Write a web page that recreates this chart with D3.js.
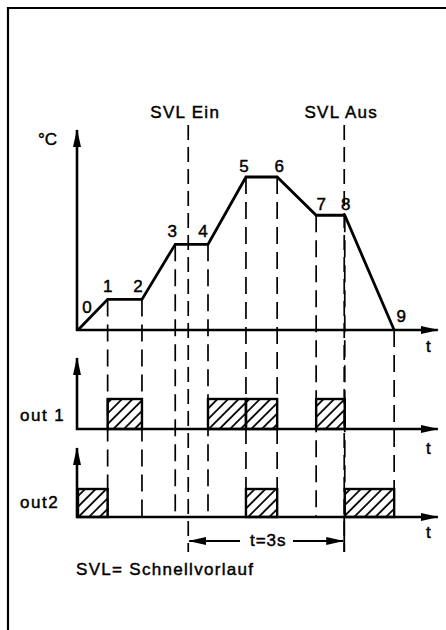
<!DOCTYPE html>
<html>
<head>
<meta charset="utf-8">
<script src="https://cdn.jsdelivr.net/npm/d3@7/dist/d3.min.js"></script>
<style>
  html, body { margin: 0; padding: 0; background: #fff; }
  svg { display: block; }
  text { font-family: "Liberation Sans", Arial, Helvetica, sans-serif; fill: #000; stroke: #000; stroke-width: 0.45px; }
</style>
</head>
<body>
<script>
// Switching points of the temperature profile (time in s, temperature in %)
const pointLabels = ["0", "1", "2", "3", "4", "5", "6", "7", "8", "9"];
const pointTimes  = [0, 0.57, 1.23, 1.87, 2.5, 3.23, 3.83, 4.58, 5.13, 6.08];
const pointTemps  = [0, 20, 20, 56, 56, 100, 100, 75, 75, 0];

// Output pulses as [start point, end point] index pairs
const out1Pulses = [[1, 2], [4, 5], [5, 6], [7, 8]];
const out2Pulses = [[0, 1], [5, 6], [8, 9]];

// Fast-forward markers (time in s)
const svlTimes  = [2.12, 5.12];
const svlLabels = ["SVL Ein", "SVL Aus"];
const bracketLabel = "t=3s";
const footnote = "SVL= Schnellvorlauf";

const W = 446, H = 630;
const svg = d3.select("body").append("svg").attr("width", W).attr("height", H);

// Hatch pattern for pulse boxes
const defs = svg.append("defs");
const pat = defs.append("pattern")
  .attr("id", "hatch").attr("patternUnits", "userSpaceOnUse")
  .attr("width", 7.5).attr("height", 10)
  .attr("patternTransform", "rotate(45)");
pat.append("line").attr("x1", 1).attr("y1", 0).attr("x2", 1).attr("y2", 10)
  .attr("stroke", "#000").attr("stroke-width", 1.8);

const arrow = defs.append("marker")
  .attr("id", "arr").attr("viewBox", "0 0 18 8")
  .attr("refX", 17).attr("refY", 4)
  .attr("markerWidth", 18).attr("markerHeight", 8)
  .attr("markerUnits", "userSpaceOnUse")
  .attr("orient", "auto");
arrow.append("path").attr("d", "M0,0 L18,4 L0,8 Z").attr("fill", "#000");

// Frame (top and left edges)
svg.append("path").attr("d", `M8,630 L8,8 L446,8`)
  .attr("fill", "none").attr("stroke", "#000").attr("stroke-width", 2.2);

// Scales
const x = d3.scaleLinear().domain([0, 7]).range([78, 442]);
const yT = d3.scaleLinear().domain([0, 100]).range([330, 177]);
const y1 = d3.scaleLinear().domain([0, 1]).range([429, 399]);
const y2 = d3.scaleLinear().domain([0, 1]).range([517, 489]);

const axisX0 = 77;
const tEnd = 6.92;

// Dashed guide lines from each point down to the out2 baseline
svg.append("g").selectAll("line")
  .data(pointTimes.slice(1))
  .join("line")
  .attr("x1", d => x(d)).attr("x2", d => x(d))
  .attr("y1", (d, i) => yT(pointTemps[i + 1]))
  .attr("y2", y2(0))
  .attr("stroke", "#000").attr("stroke-width", 1.7)
  .attr("stroke-dasharray", "17,8");

// SVL marker lines
svg.append("g").selectAll("line")
  .data(svlTimes)
  .join("line")
  .attr("x1", d => x(d)).attr("x2", d => x(d))
  .attr("y1", 125).attr("y2", 552)
  .attr("stroke", "#000").attr("stroke-width", 1.7)
  .attr("stroke-dasharray", "15,7");

svg.append("g").selectAll("text")
  .data(svlLabels)
  .join("text")
  .attr("x", (d, i) => x(svlTimes[i]) - 3)
  .attr("y", 118)
  .attr("text-anchor", "middle")
  .attr("font-size", 17).attr("letter-spacing", 1.3)
  .text(d => d);

// Axes
function axis(yTop, yBase) {
  svg.append("line").attr("x1", axisX0).attr("x2", axisX0)
    .attr("y1", yBase + 1).attr("y2", yTop)
    .attr("stroke", "#000").attr("stroke-width", 2.6).attr("marker-end", "url(#arr)");
  svg.append("line").attr("x1", axisX0 - 1).attr("x2", x(tEnd))
    .attr("y1", yBase).attr("y2", yBase)
    .attr("stroke", "#000").attr("stroke-width", 2.6).attr("marker-end", "url(#arr)");
}
axis(130, yT(0));
axis(358, y1(0));
axis(448, y2(0));

// Temperature profile
const line = d3.line().x(d => x(d[0])).y(d => yT(d[1]));
svg.append("path")
  .datum(d3.zip(pointTimes, pointTemps))
  .attr("d", line)
  .attr("fill", "none").attr("stroke", "#000").attr("stroke-width", 2.8)
  .attr("stroke-linejoin", "miter");

// Point numbers
const labelDx = [9, 0, -4, -3, -5, -2, 2, 5, 1, 7];
const labelDy = [-17, -7, -7, -7, -7, -5, -5, -5, -5, -8];
svg.append("g").selectAll("text")
  .data(pointLabels)
  .join("text")
  .attr("x", (d, i) => x(pointTimes[i]) + labelDx[i])
  .attr("y", (d, i) => yT(pointTemps[i]) + labelDy[i])
  .attr("text-anchor", "middle")
  .attr("font-size", 17)
  .text(d => d);

// Pulse boxes
function pulses(data, ys) {
  svg.append("g").selectAll("rect")
    .data(data)
    .join("rect")
    .attr("x", d => x(pointTimes[d[0]]))
    .attr("width", d => x(pointTimes[d[1]]) - x(pointTimes[d[0]]))
    .attr("y", ys(1))
    .attr("height", ys(0) - ys(1))
    .attr("fill", "url(#hatch)")
    .attr("stroke", "#000").attr("stroke-width", 2.4);
}
pulses(out1Pulses, y1);
pulses(out2Pulses, y2);

// Axis labels
svg.append("text").attr("x", 38).attr("y", 145).attr("font-size", 17).text("°C");
svg.append("text").attr("x", 20).attr("y", 421).attr("font-size", 17).attr("letter-spacing", 1.5).text("out 1");
svg.append("text").attr("x", 20).attr("y", 508).attr("font-size", 17).attr("letter-spacing", 1.5).text("out2");
[352, 454, 538].forEach(yy => {
  svg.append("text").attr("x", 426).attr("y", yy).attr("font-size", 17).text("t");
});

// Duration bracket between the SVL markers
const bY = 541;
const bx0 = x(svlTimes[0]), bx1 = x(svlTimes[1]);
svg.append("line").attr("x1", bx1).attr("x2", bx1).attr("y1", y2(0)).attr("y2", 552)
  .attr("stroke", "#000").attr("stroke-width", 1.8);
svg.append("line").attr("x1", 240).attr("x2", bx0 + 1).attr("y1", bY).attr("y2", bY)
  .attr("stroke", "#000").attr("stroke-width", 1.8).attr("marker-end", "url(#arr)");
svg.append("line").attr("x1", 293).attr("x2", bx1 - 1).attr("y1", bY).attr("y2", bY)
  .attr("stroke", "#000").attr("stroke-width", 1.8).attr("marker-end", "url(#arr)");
svg.append("text").attr("x", (bx0 + bx1) / 2 + 2).attr("y", 546)
  .attr("text-anchor", "middle").attr("font-size", 17).attr("letter-spacing", 1)
  .text(bracketLabel);

// Footnote
svg.append("text").attr("x", 76).attr("y", 575).attr("font-size", 17).attr("letter-spacing", 1.3)
  .text(footnote);
</script>
</body>
</html>
